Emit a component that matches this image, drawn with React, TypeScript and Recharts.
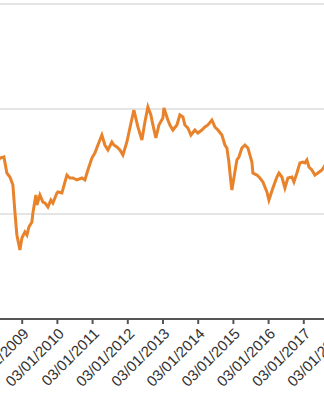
import { CartesianGrid, Line, LineChart, XAxis, YAxis } from "recharts";

// decimal years
const years = [
  2008.3, 2008.367, 2008.48, 2008.565, 2008.651, 2008.736, 2008.793, 2008.849, 2008.935, 2008.991,
  2009.077, 2009.134, 2009.19, 2009.276, 2009.304, 2009.389, 2009.418, 2009.503, 2009.588, 2009.645,
  2009.73, 2009.815, 2009.872, 2009.986, 2010.014, 2010.128, 2010.27, 2010.355, 2010.44, 2010.554,
  2010.696, 2010.781, 2010.866, 2010.98, 2011.065, 2011.151, 2011.264, 2011.349, 2011.435, 2011.548,
  2011.605, 2011.69, 2011.776, 2011.861, 2011.974, 2012.06, 2012.173, 2012.287, 2012.401, 2012.486,
  2012.571, 2012.656, 2012.713, 2012.798, 2012.884, 2012.997, 2013.026, 2013.139, 2013.196, 2013.281,
  2013.395, 2013.48, 2013.565, 2013.622, 2013.707, 2013.793, 2013.906, 2013.991, 2014.105, 2014.19,
  2014.276, 2014.389, 2014.474, 2014.56, 2014.673, 2014.759, 2014.815, 2014.872, 2014.929, 2014.957,
  2015.014, 2015.099, 2015.156, 2015.241, 2015.327, 2015.412, 2015.526, 2015.554, 2015.668, 2015.753,
  2015.838, 2015.952, 2016.009, 2016.122, 2016.236, 2016.293, 2016.378, 2016.463, 2016.548, 2016.662,
  2016.719, 2016.804, 2016.889, 2016.974, 2017.031, 2017.088, 2017.145, 2017.23, 2017.315, 2017.401,
  2017.514, 2017.571, 2017.65,
];

const values = [
  14.9, 15.33, 15.43, 13.9, 13.52, 12.76, 10.19, 8.0, 6.57, 7.71,
  8.29, 8.0, 8.76, 9.24, 10.1, 11.81, 10.86, 11.81, 11.14, 11.05,
  10.67, 11.33, 11.05, 12.0, 12.1, 12.0, 13.71, 13.43, 13.43, 13.24,
  13.43, 13.24, 14.19, 15.33, 15.81, 16.57, 17.52, 16.57, 16.1, 16.86,
  16.57, 16.38, 16.1, 15.62, 16.86, 18.19, 19.9, 18.29, 17.05, 18.76,
  20.19, 19.43, 18.48, 17.24, 18.48, 19.14, 20.1, 18.95, 18.48, 18.0,
  18.48, 19.43, 19.24, 18.48, 18.19, 17.52, 18.0, 17.71, 18.0, 18.29,
  18.48, 18.95, 18.29, 18.0, 17.52, 16.57, 16.29, 14.95, 13.05, 12.29,
  13.43, 15.14, 15.43, 16.29, 16.57, 16.29, 14.95, 13.9, 13.71, 13.43,
  13.05, 12.1, 11.33, 12.48, 13.52, 13.9, 13.52, 12.48, 13.43, 13.52,
  13.05, 13.9, 14.86, 14.95, 14.86, 15.14, 14.48, 14.19, 13.71, 13.9,
  14.19, 14.48, 14.9,
];

const tickYears = [2008, 2009, 2010, 2011, 2012, 2013, 2014, 2015, 2016, 2017, 2018];
const gridValues = [0, 10, 20];

const data = years.map((t, i) => ({ t, value: values[i] }));

export default function App() {
  return (
    <div
      style={{
        position: "absolute",
        left: 0,
        top: 0,
        width: 324,
        height: 400,
        overflow: "hidden",
        background: "#fff",
      }}
    >
      <div style={{ marginLeft: -12.9 }}>
        <LineChart width={352} height={400} data={data} margin={{ top: 4, right: 0, left: 0, bottom: 0 }}>
          <CartesianGrid vertical={false} stroke="#cacaca" />
          <XAxis
            dataKey="t"
            type="number"
            domain={[2008, 2018]}
            ticks={tickYears}
            interval={0}
            tickFormatter={(v) => `03/01/${v}`}
            angle={-45}
            textAnchor="end"
            height={81}
            tickSize={5}
            tickMargin={3}
            axisLine={{ stroke: "#555", strokeWidth: 2 }}
            tickLine={{ stroke: "#555", strokeWidth: 2 }}
            tick={{ fontSize: 15, fill: "#333", fontFamily: "Liberation Sans, Arial, sans-serif" }}
          />
          <YAxis hide domain={[0, 30]} ticks={gridValues} />
          <Line
            type="linear"
            dataKey="value"
            stroke="#e8832b"
            strokeWidth={3}
            dot={false}
            isAnimationActive={false}
          />
        </LineChart>
      </div>
    </div>
  );
}
